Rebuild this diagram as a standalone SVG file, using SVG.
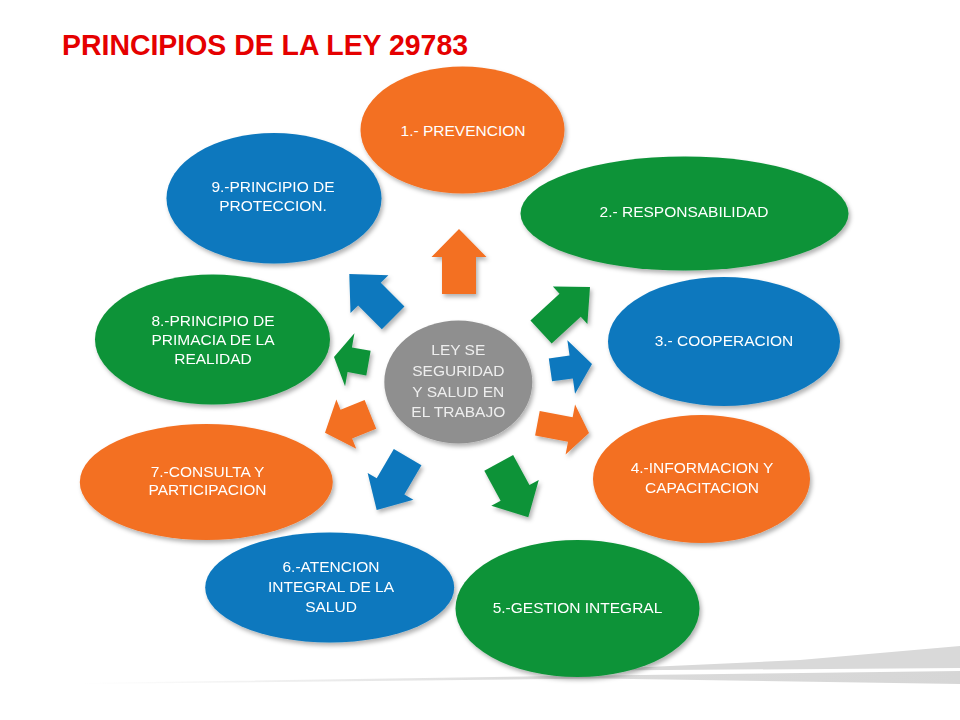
<svg xmlns="http://www.w3.org/2000/svg" width="960" height="720" viewBox="0 0 960 720">
  <style>
    .lbl { font-family: "Liberation Sans", Arial, sans-serif; font-size: 15.5px; fill: #ffffff; text-anchor: middle; }
    .ctr { fill: #eeeeee; }
    .or { fill: #F36F21; }
    .gr { fill: #0E9339; }
    .bl { fill: #0B78BE; }
    .gy { fill: #8F8F8F; }
    .sh { filter: url(#shadow); }
    .title { font-family: "Liberation Sans", Arial, sans-serif; font-weight: bold; font-size: 29px; fill: #E50000; }
  </style>
  <defs>
    <filter id="shadow" x="-20%" y="-20%" width="150%" height="150%">
      <feDropShadow dx="2" dy="3" stdDeviation="2" flood-color="#000000" flood-opacity="0.3"/>
    </filter>
    <linearGradient id="swooshL" x1="0" y1="0" x2="1" y2="0">
      <stop offset="0" stop-color="#ffffff"/>
      <stop offset="0.5" stop-color="#dcdcdc"/>
      <stop offset="1" stop-color="#d6d6d6"/>
    </linearGradient>
  </defs>
  <rect width="960" height="720" fill="#ffffff"/>

  <g id="swoosh">
    <polygon points="80,683 600,675.5 960,671 960,684 600,678.5 80,684" fill="url(#swooshL)"/>
    <polygon points="560,671 800,660 960,646 960,668 600,670.5" fill="#d9d9d9"/>
  </g>

  <g id="title">
    <text class="title" x="62" y="55" textLength="406" lengthAdjust="spacingAndGlyphs">PRINCIPIOS DE LA LEY 29783</text>
  </g>

  <g id="connectors" class="sh">
    <polygon class="or" transform="translate(459,229) rotate(0)" points="0,0 27.5,28 17,28 17,65 -17,65 -17,28 -27.5,28"/>
    <polygon class="gr" transform="translate(590,287) rotate(47.4)" points="0,0 25.5,27 15.7,27 15.7,66.5 -15.7,66.5 -15.7,27 -25.5,27"/>
    <polygon class="bl" transform="translate(592,364) rotate(81.8)" points="0,0 27,21 11.5,21 11.5,42 -11.5,42 -11.5,21 -27,21"/>
    <polygon class="or" transform="translate(589,433) rotate(100.7)" points="0,0 25.5,19 12.5,19 12.5,52.5 -12.5,52.5 -12.5,19 -25.5,19"/>
    <polygon class="gr" transform="translate(528.3,517.3) rotate(151.5)" points="0,0 27,27.8 16.4,27.8 16.4,62 -16.4,62 -16.4,27.8 -27,27.8"/>
    <polygon class="bl" transform="translate(376.7,510) rotate(-149.7)" points="0,0 26.5,27.4 16,27.4 16,61.3 -16,61.3 -16,27.4 -26.5,27.4"/>
    <polygon class="or" transform="translate(325,432.7) rotate(-112)" points="0,0 26.5,23 15.5,23 15.5,49 -15.5,49 -15.5,23 -26.5,23"/>
    <polygon class="gr" transform="translate(334,357) rotate(-80)" points="0,0 27,16 12.5,16 12.5,35 -12.5,35 -12.5,16 -27,16"/>
    <polygon class="bl" transform="translate(349.3,274) rotate(-45)" points="0,0 26.8,28.5 16,28.5 16,62 -16,62 -16,28.5 -26.8,28.5"/>
  </g>

  <g id="node-center">
    <ellipse class="gy sh" cx="458.3" cy="382" rx="74" ry="61.5"/>
    <text class="lbl ctr" x="458.3" y="355">LEY SE</text>
    <text class="lbl ctr" x="458.3" y="376">SEGURIDAD</text>
    <text class="lbl ctr" x="458.3" y="396.7">Y SALUD EN</text>
    <text class="lbl ctr" x="458.3" y="417.3">EL TRABAJO</text>
  </g>

  <g id="node-1">
    <ellipse class="or sh" cx="462.5" cy="130" rx="102" ry="63.5"/>
    <text class="lbl" x="463" y="136">1.- PREVENCION</text>
  </g>

  <g id="node-2">
    <ellipse class="gr sh" cx="684.5" cy="213.5" rx="164" ry="57"/>
    <text class="lbl" x="684" y="216.7">2.- RESPONSABILIDAD</text>
  </g>

  <g id="node-3">
    <ellipse class="bl sh" cx="724" cy="341.5" rx="116" ry="64.5"/>
    <text class="lbl" x="724" y="346">3.- COOPERACION</text>
  </g>

  <g id="node-4">
    <ellipse class="or sh" cx="701.5" cy="479" rx="108.5" ry="64"/>
    <text class="lbl" x="702" y="473.3">4.-INFORMACION Y</text>
    <text class="lbl" x="702" y="492.7">CAPACITACION</text>
  </g>

  <g id="node-5">
    <ellipse class="gr sh" cx="577.5" cy="608.5" rx="122" ry="68.5"/>
    <text class="lbl" x="577.5" y="612.7">5.-GESTION INTEGRAL</text>
  </g>

  <g id="node-6">
    <ellipse class="bl sh" cx="329.7" cy="587.5" rx="124.5" ry="55"/>
    <text class="lbl" x="331" y="571.7">6.-ATENCION</text>
    <text class="lbl" x="331" y="591.7">INTEGRAL DE LA</text>
    <text class="lbl" x="331" y="611.7">SALUD</text>
  </g>

  <g id="node-7">
    <ellipse class="or sh" cx="206.3" cy="482" rx="126.5" ry="58"/>
    <text class="lbl" x="207.5" y="476.7">7.-CONSULTA Y</text>
    <text class="lbl" x="207.5" y="495">PARTICIPACION</text>
  </g>

  <g id="node-8">
    <ellipse class="gr sh" cx="212.5" cy="339.5" rx="117.5" ry="65"/>
    <text class="lbl" x="213" y="326">8.-PRINCIPIO DE</text>
    <text class="lbl" x="213" y="344.5">PRIMACIA DE LA</text>
    <text class="lbl" x="213" y="363.5">REALIDAD</text>
  </g>

  <g id="node-9">
    <ellipse class="bl sh" cx="274" cy="198.3" rx="107.5" ry="65.3"/>
    <text class="lbl" x="273" y="191.7">9.-PRINCIPIO DE</text>
    <text class="lbl" x="273" y="210.7">PROTECCION.</text>
  </g>
</svg>
